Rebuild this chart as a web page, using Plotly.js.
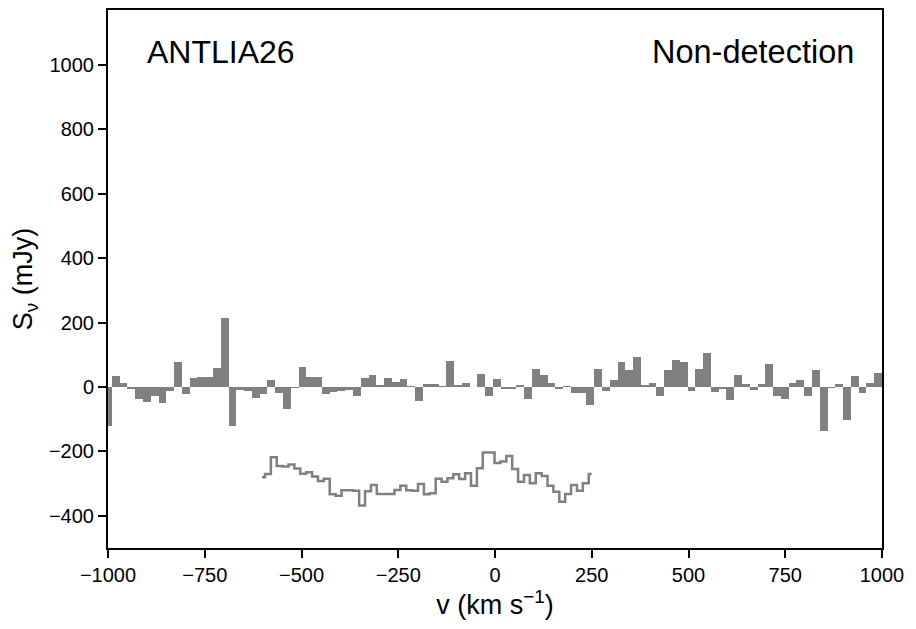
<!DOCTYPE html>
<html>
<head>
<meta charset="utf-8">
<script src="https://cdn.plot.ly/plotly-3.0.1.min.js"></script>
<style>html,body{margin:0;padding:0;background:#fff;}</style>
</head>
<body>
<div id="chart" style="width:916px;height:629px;"></div>
<script>
// Histogram spectrum (channel flux densities, mJy), channels start at -1000 km/s
const barStart = -1000;
const barWidth = 20.1;
const barFlux = [
  -120, 34, 12, -6, -36, -45, -27, -49, -11, 78,
  -21, 28, 31, 31, 59, 214, -120, -9, -11, -33,
  -23, 22, -20, -67, -2, 62, 31, 31, -21, -17,
  -11, -9, -27, 28, 37, 6, 28, 16, 25, 3,
  -43, 9, 9, 3, 80, 6, 12, 0, 40, -27,
  25, -6, -6, 6, -36, 56, 37, 12, -6, 3,
  -18, -18, -55, 56, -12, 22, 78, 53, 93, 6,
  12, -27, 53, 84, 78, -12, 56, 105, -16, -6,
  -40, 37, 9, -9, 9, 71, -28, -37, 12, 22,
  -28, 53, -137, -3, 9, -102, 34, -19, 12, 43
];

// Offset step-line spectrum (mJy), channels start at -602 km/s
const lineStart = -602;
const lineWidth = 15.21;
const lineFlux = [
  -280, -270, -218, -245, -247, -241, -253, -269, -265, -278,
  -292, -285, -333, -338, -321, -321, -322, -368, -324, -304,
  -332, -332, -332, -320, -307, -321, -322, -301, -333, -330,
  -285, -294, -283, -271, -286, -268, -307, -252, -203, -203,
  -236, -231, -214, -255, -294, -273, -299, -268, -276, -307,
  -325, -356, -332, -304, -322, -299, -270
];

const xTicks = [-1000, -750, -500, -250, 0, 250, 500, 750, 1000];
const yTicks = [-400, -200, 0, 200, 400, 600, 800, 1000];
const labelLeft = 'ANTLIA26';
const labelRight = 'Non-detection';

const FONT = 'Liberation Sans, Arial, Helvetica, sans-serif';

const traces = [
  {
    type: 'bar',
    x0: barStart, dx: barWidth,
    y: barFlux,
    marker: {color: '#808080', line: {width: 0}},
    width: barWidth,
    hoverinfo: 'x+y'
  },
  {
    type: 'scatter', mode: 'lines',
    x0: lineStart, dx: lineWidth,
    y: lineFlux,
    line: {color: '#808080', width: 2.5, shape: 'hvh'},
    hoverinfo: 'x+y'
  }
];

const axisCommon = {
  showgrid: false, zeroline: false,
  showline: true, linewidth: 2, linecolor: '#000', mirror: true,
  ticks: 'outside', ticklen: 8, tickwidth: 2, tickcolor: '#000',
  tickfont: {family: FONT, size: 20, color: '#000'}
};

const layout = {
  width: 916, height: 629,
  margin: {l: 108, r: 34, t: 10, b: 81},
  paper_bgcolor: '#fff', plot_bgcolor: '#fff',
  showlegend: false,
  bargap: 0,
  font: {family: FONT, color: '#000'},
  xaxis: Object.assign({}, axisCommon, {
    range: [-1000, 1000],
    tickvals: xTicks,
    title: {text: 'v (km s<sup>−1</sup>)', font: {family: FONT, size: 27, color: '#000'}, standoff: 6}
  }),
  yaxis: Object.assign({}, axisCommon, {
    range: [-500, 1171],
    tickvals: yTicks,
    title: {text: 'S<sub>ν</sub> (mJy)', font: {family: FONT, size: 27, color: '#000'}, standoff: 8}
  }),
  annotations: [
    {text: labelLeft, xref: 'paper', yref: 'paper', x: 0.048, y: 0.922,
     xanchor: 'left', yanchor: 'middle', showarrow: false,
     font: {family: FONT, size: 32, color: '#000'}},
    {text: labelRight, xref: 'paper', yref: 'paper', x: 0.966, y: 0.922,
     xanchor: 'right', yanchor: 'middle', showarrow: false,
     font: {family: FONT, size: 32.5, color: '#000'}}
  ]
};

Plotly.newPlot('chart', traces, layout, {displayModeBar: false, staticPlot: true});
</script>
</body>
</html>
